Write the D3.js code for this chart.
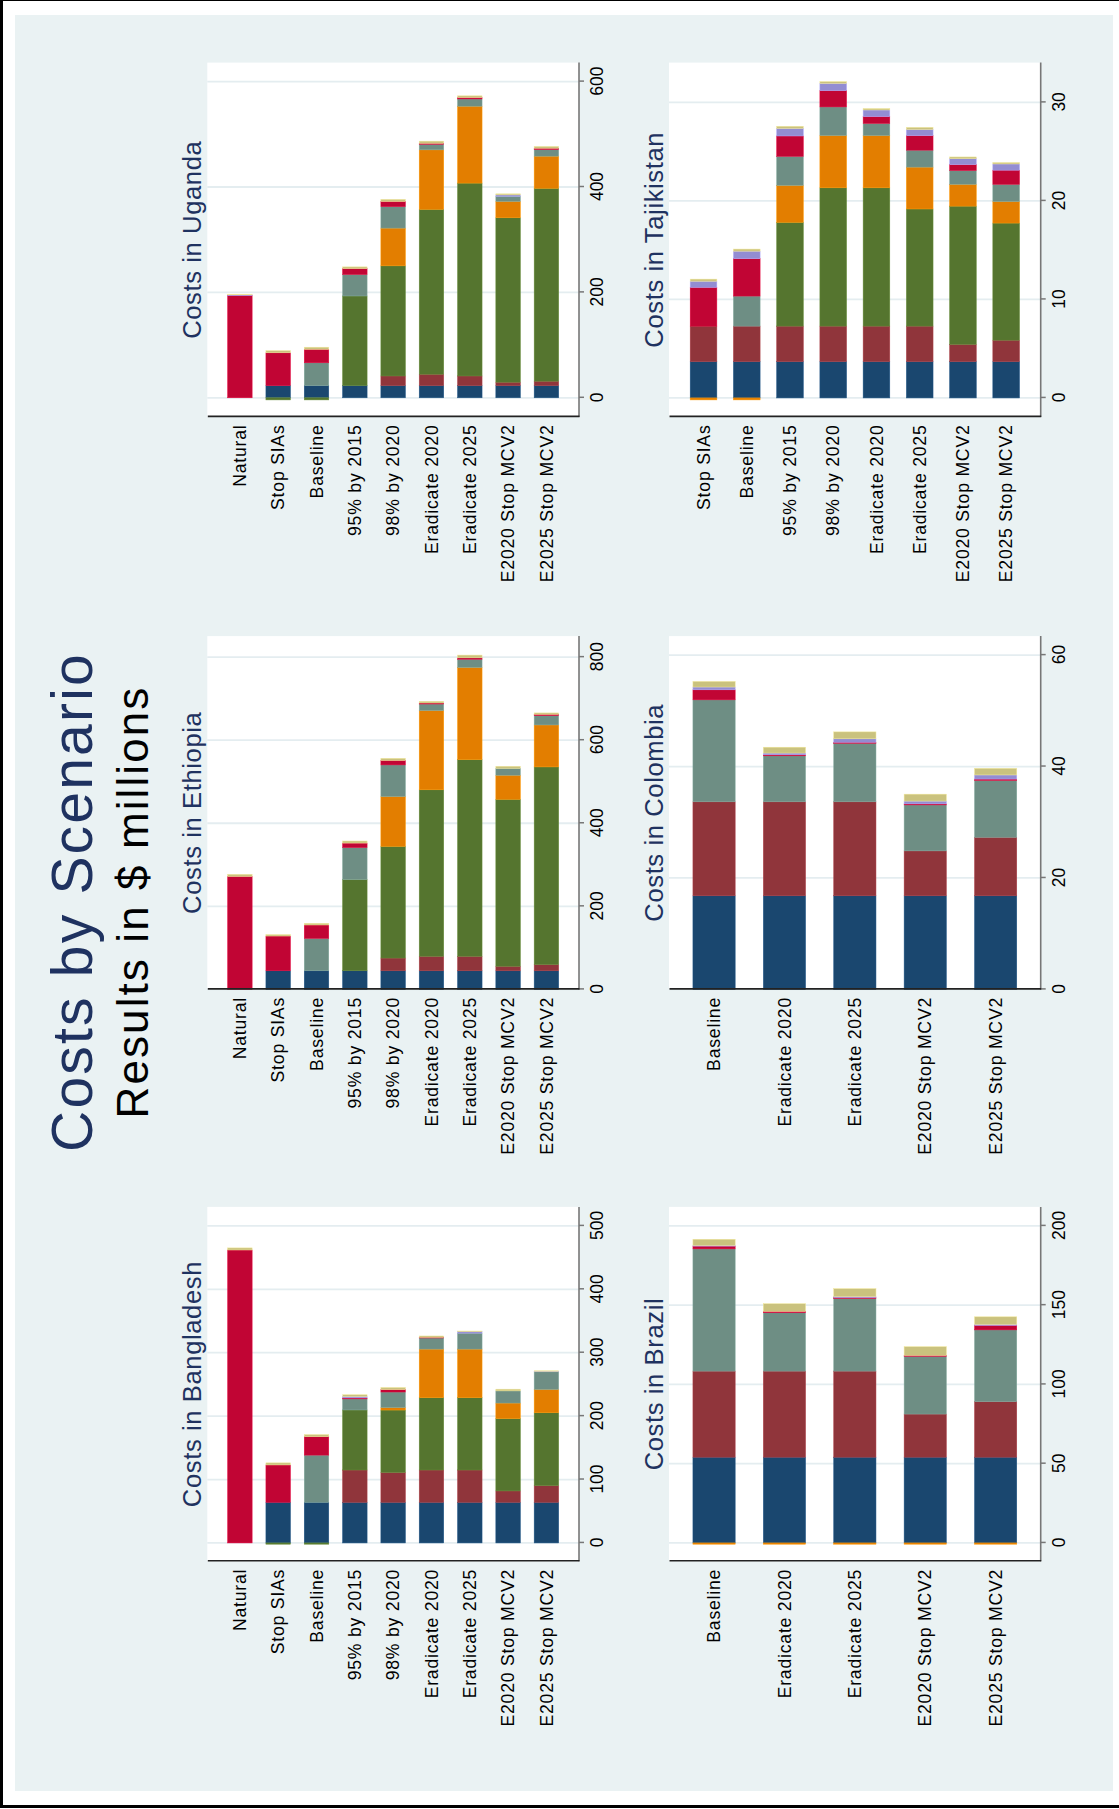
<!DOCTYPE html>
<html><head><meta charset="utf-8">
<script src="https://cdn.jsdelivr.net/npm/d3@7"></script>
<style>
html,body{margin:0;padding:0;background:#fff}
svg{display:block}
text{font-family:"Liberation Sans",Arial,Helvetica,sans-serif}
</style>
</head><body>
<svg id="chart" width="1119" height="1809"></svg>
<script>
// ---------- DATA ----------
const mainTitle = "Costs by Scenario";
const subTitle = "Results in $ millions";

// stacked components (in stacking order)
const seriesKeys = [0, 1, 2, 3, 4, 5, 6, 7];

const catsAll = ["Natural", "Stop SIAs", "Baseline", "95% by 2015", "98% by 2020",
  "Eradicate 2020", "Eradicate 2025", "E2020 Stop MCV2", "E2025 Stop MCV2"];
const catsTaj = ["Stop SIAs", "Baseline", "95% by 2015", "98% by 2020",
  "Eradicate 2020", "Eradicate 2025", "E2020 Stop MCV2", "E2025 Stop MCV2"];
const catsLatAm = ["Baseline", "Eradicate 2020", "Eradicate 2025", "E2020 Stop MCV2", "E2025 Stop MCV2"];

// each row = one scenario, values for the 8 stacked components
const ugandaValues = [
  [0, 0, 0, 0, 0, 194, 1.5, 1],
  [23, 0, -4, 0, 0, 62.4, 0, 4],
  [23, 0, -4, 0, 43.4, 25.6, 0, 4],
  [23, 0, 170.2, 0, 40.7, 11.2, 0, 3.3],
  [23, 18.4, 209, 71.6, 40.7, 9.9, 0, 3.9],
  [23, 21.7, 312.8, 113, 10.5, 2, 0, 4],
  [23, 18.4, 366, 145.9, 13.8, 2.6, 0, 3.3],
  [23, 6.6, 312, 30.9, 9.9, 0, 2.6, 2],
  [23, 8.5, 366, 61, 12.5, 2.6, 0, 3.3]
];
const ethiopiaValues = [
  [0, 0, 0, 0, 0, 272, 0, 5],
  [44.8, 0, 0, 0, 0, 83.7, 0, 3.3],
  [44.8, 0, 0, 0, 78, 32.3, 0, 4],
  [44.8, 0, 219.7, 0, 77, 10.8, 0, 5],
  [44.8, 30.7, 268.7, 120, 76.3, 10.8, 0, 5],
  [44.8, 34.8, 401, 190.7, 15.8, 2.5, 0, 4],
  [44.8, 34.8, 473.5, 222, 19.9, 3.3, 0, 6.6],
  [44.8, 10.8, 402, 58, 16.6, 0, 0, 5],
  [44.8, 14.9, 476, 101, 22.4, 3.3, 0, 3.3]
];
const bangladeshValues = [
  [0, 0, 0, 0, 0, 462, 0, 3.3],
  [64, 0, -2, 0, 0, 59, 0, 3.3],
  [64, 0, -2, 0, 74.5, 29, 0, 3.3],
  [64, 51, 94.7, 0, 17.5, 1.6, 2.2, 2.7],
  [64, 47, 98.6, 3.8, 24.6, 3.8, 0, 3.3],
  [64, 51, 114, 76.7, 17.5, 1, 0, 2.2],
  [64, 51, 114, 76.7, 25.2, 0, 2.2, 1.1],
  [64, 18, 114, 24.6, 19.2, 0, 0, 2.7],
  [64, 26.3, 115, 36.7, 27.9, 0, 0.8, 0.8]
];
const tajikistanValues = [
  [3.68, 3.61, 0, -0.2, 0, 3.93, 0.63, 0.21],
  [3.68, 3.61, 0, -0.2, 3.05, 3.79, 0.77, 0.21],
  [3.68, 3.61, 10.53, 3.75, 2.95, 2.07, 0.77, 0.21],
  [3.68, 3.61, 14.04, 5.30, 2.91, 1.65, 0.74, 0.18],
  [3.68, 3.61, 14.04, 5.30, 1.23, 0.70, 0.67, 0.14],
  [3.68, 3.61, 11.89, 4.25, 1.72, 1.47, 0.63, 0.21],
  [3.68, 1.75, 14.04, 2.21, 1.40, 0.60, 0.60, 0.18],
  [3.68, 2.18, 11.89, 2.18, 1.75, 1.44, 0.63, 0.14]
];
const colombiaValues = [
  [16.8, 16.87, 0, 0, 18.3, 1.8, 0.5, 1.0],
  [16.8, 16.87, 0, 0, 8.25, 0.19, 0.31, 1.05],
  [16.8, 16.87, 0, 0, 10.5, 0.19, 0.62, 1.24],
  [16.8, 8.06, 0, 0, 8.25, 0.19, 0.5, 1.24],
  [16.8, 10.5, 0, 0, 10.2, 0.25, 0.74, 1.18]
];
const brazilValues = [
  [54.1, 54.3, 0, -0.8, 77.1, 1.75, 0.4, 3.9],
  [54.1, 54.3, 0, -0.8, 36.8, 0.9, 0, 4.8],
  [54.1, 54.3, 0, -0.8, 45.8, 0.6, 0.6, 5.0],
  [54.1, 27.2, 0, -0.8, 36.4, 0.6, 0, 5.5],
  [54.1, 35.0, 0, -0.8, 45.3, 2.85, 0.6, 4.8]
];

const ugandaTicks = [0, 200, 400, 600];
const ethiopiaTicks = [0, 200, 400, 600, 800];
const bangladeshTicks = [0, 100, 200, 300, 400, 500];
const tajikistanTicks = [0, 10, 20, 30];
const colombiaTicks = [0, 20, 40, 60];
const brazilTicks = [0, 50, 100, 150, 200];

// ---------- STYLE / LAYOUT ----------
const seriesColors = ["#1a476f", "#90353b", "#55752f", "#e37e00", "#6e8e84", "#c10534", "#938dd2", "#cac27e"];
const W = 1119, H = 1809;
const colU = [[247.8, 602.1], [819.6, 1172.9], [1392.1, 1746.4]];
const rowV = [[207.3, 579], [669, 1040.7]];
const bandPad = {9: {inner: 0.36, outer: 0.53}, 8: {inner: 0.383, outer: 0.49}, 5: {inner: 0.40, outer: 0.34}};
const titleColor = "#1f3260";

const panels = [
  {title: "Costs in Bangladesh", cats: catsAll, values: bangladeshValues, ticks: bangladeshTicks, col: 0, row: 0},
  {title: "Costs in Ethiopia", cats: catsAll, values: ethiopiaValues, ticks: ethiopiaTicks, col: 1, row: 0},
  {title: "Costs in Uganda", cats: catsAll, values: ugandaValues, ticks: ugandaTicks, col: 2, row: 0},
  {title: "Costs in Brazil", cats: catsLatAm, values: brazilValues, ticks: brazilTicks, col: 0, row: 1},
  {title: "Costs in Colombia", cats: catsLatAm, values: colombiaValues, ticks: colombiaTicks, col: 1, row: 1},
  {title: "Costs in Tajikistan", cats: catsTaj, values: tajikistanValues, ticks: tajikistanTicks, col: 2, row: 1}
];

// ---------- DRAW ----------
const svg = d3.select("#chart");
svg.append("rect").attr("width", W).attr("height", H).attr("fill", "#fff");
svg.append("rect").attr("x", 15).attr("y", 15).attr("width", 1098).attr("height", 1776).attr("fill", "#eaf2f3");
svg.append("line").attr("x1", 1.5).attr("x2", 1.5).attr("y1", 0).attr("y2", 1808).attr("stroke", "#000").attr("stroke-width", 3);
svg.append("line").attr("x1", 0).attr("x2", W).attr("y1", 0.5).attr("y2", 0.5).attr("stroke", "#000").attr("stroke-width", 1.2);
svg.append("line").attr("x1", 0).attr("x2", W).attr("y1", 1806.5).attr("y2", 1806.5).attr("stroke", "#000").attr("stroke-width", 3);

// landscape frame rotated into portrait
const root = svg.append("g").attr("transform", `translate(0,${H}) rotate(-90)`);

root.append("text").attr("x", 907).attr("y", 92).attr("text-anchor", "middle")
  .attr("font-size", 57).attr("letter-spacing", 2.2).attr("fill", titleColor).text(mainTitle);
root.append("text").attr("x", 907).attr("y", 148).attr("text-anchor", "middle")
  .attr("font-size", 44).attr("letter-spacing", 2.1).attr("fill", "#000").text(subTitle);

panels.forEach(p => {
  const [u0, u1] = colU[p.col];
  const [v0, v1] = rowV[p.row];
  const stacked = d3.stack().keys(seriesKeys).value((d, k) => d[k]).offset(d3.stackOffsetDiverging)(p.values);
  const dataMin = d3.min(stacked, s => d3.min(s, d => Math.min(d[0], d[1])));
  const dataMax = d3.max(stacked, s => d3.max(s, d => Math.max(d[0], d[1])));
  const dmin = Math.min(0, dataMin), dmax = Math.max(dataMax, d3.max(p.ticks));
  const x = d3.scaleLinear().domain([dmin, dmax]).range([u0 + (dmin < 0 ? 17 : 0), u1 - 19]);
  const pad = bandPad[p.cats.length];
  const y = d3.scaleBand().domain(p.cats).range([v0, v1]).paddingInner(pad.inner).paddingOuter(pad.outer);

  const g = root.append("g");
  g.append("rect").attr("x", u0).attr("y", v0).attr("width", u1 - u0).attr("height", v1 - v0).attr("fill", "#fff");

  g.append("g").selectAll("line").data(p.ticks).join("line")
    .attr("x1", d => x(d)).attr("x2", d => x(d)).attr("y1", v0).attr("y2", v1)
    .attr("stroke", "#e4edf0").attr("stroke-width", 1.8);

  stacked.forEach((s, i) => {
    const segs = s.map((d, j) => ({a: d[0], b: d[1], cat: p.cats[j]})).filter(o => o.a !== o.b);
    g.append("g").attr("fill", seriesColors[i])
      .attr("stroke", d3.color(seriesColors[i]).brighter(0.5)).attr("stroke-width", 0.5)
      .selectAll("rect").data(segs).join("rect")
      .attr("x", o => x(Math.min(o.a, o.b)))
      .attr("width", o => Math.abs(x(o.b) - x(o.a)))
      .attr("y", o => y(o.cat))
      .attr("height", y.bandwidth());
  });

  // value axis (bottom in landscape)
  const ax = g.append("g").attr("transform", `translate(0,${v1})`)
    .call(d3.axisBottom(x).tickValues(p.ticks).tickSize(5).tickPadding(6.6).tickSizeOuter(0).tickFormat(d3.format("d")));
  ax.select(".domain").remove();
  ax.selectAll(".tick line").attr("stroke", "#777").attr("stroke-width", 1.5);
  ax.selectAll(".tick text").attr("font-size", 17.5).attr("fill", "#000").attr("font-family", null);
  g.append("line").attr("x1", u0).attr("x2", u1).attr("y1", v1).attr("y2", v1)
    .attr("stroke", "#777").attr("stroke-width", 1.6);

  // category axis (left in landscape)
  const cx = g.append("g").attr("transform", `translate(${u0},0)`)
    .call(d3.axisLeft(y).tickSize(0).tickPadding(7.6));
  cx.select(".domain").attr("stroke", "#222").attr("stroke-width", 1.6);
  cx.selectAll(".tick text").attr("font-size", 17.6).attr("letter-spacing", 0.8)
    .attr("fill", "#000").attr("font-family", null).attr("dy", "0.35em");

  g.append("text").attr("x", (u0 + u1) / 2).attr("y", v0 - 6).attr("text-anchor", "middle")
    .attr("font-size", 25.6).attr("letter-spacing", 0.6).attr("fill", titleColor).text(p.title);
});
</script>
</body></html>
